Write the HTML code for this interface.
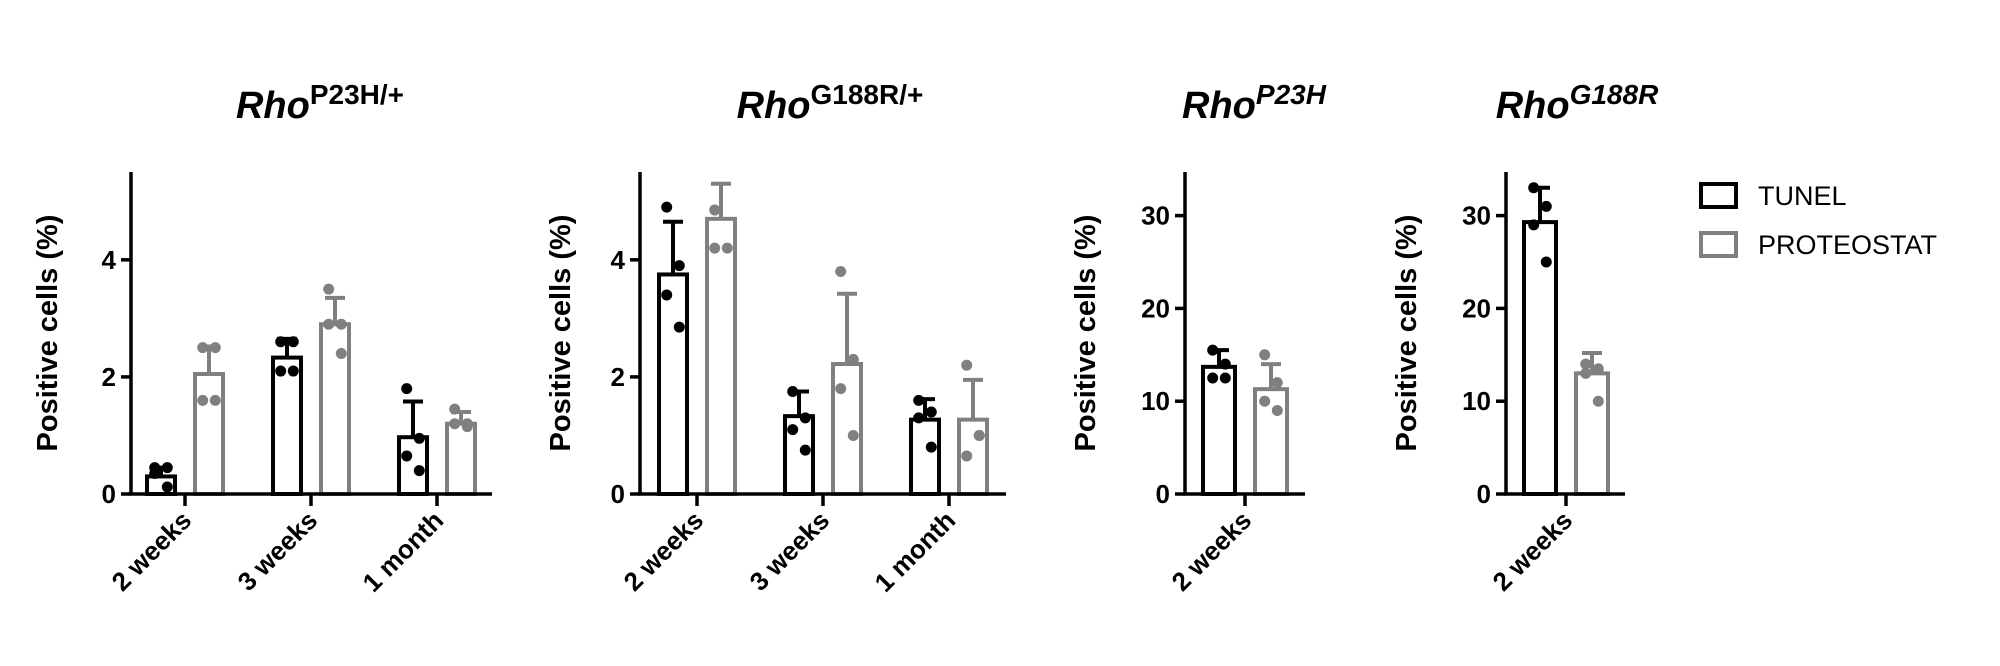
<!DOCTYPE html>
<html><head><meta charset="utf-8"><style>
html,body{margin:0;padding:0;background:#fff;}
svg{display:block;font-family:"Liberation Sans",Arial,sans-serif;}
</style></head><body>
<svg id="fig" width="2000" height="666" viewBox="0 0 2000 666" xmlns="http://www.w3.org/2000/svg">
<g>
<rect x="1701" y="184" width="35" height="23" fill="none" stroke="#000" stroke-width="4"/>
<text x="1758" y="205" font-size="27">TUNEL</text>
<rect x="1701" y="233" width="35" height="23" fill="none" stroke="#808080" stroke-width="4"/>
<text x="1758" y="254" font-size="27">PROTEOSTAT</text>
</g>
</svg>
<script>
// Panel 1: Rho P23H/+
const p1Categories = ["2 weeks", "3 weeks", "1 month"];
const p1TunelMean = [0.3, 2.33, 0.97];
const p1TunelSD = [0.15, 0.32, 0.61];
const p1TunelPts = [[0.45, 0.45, 0.35, 0.12], [2.6, 2.6, 2.1, 2.1], [1.8, 0.95, 0.65, 0.4]];
const p1ProtMean = [2.05, 2.9, 1.2];
const p1ProtSD = [0.47, 0.45, 0.2];
const p1ProtPts = [[2.5, 2.5, 1.6, 1.6], [3.5, 2.9, 2.9, 2.4], [1.45, 1.2, 1.2, 1.15]];
const p1Ticks = [0, 2, 4];
// Panel 2: Rho G188R/+
const p2Categories = ["2 weeks", "3 weeks", "1 month"];
const p2TunelMean = [3.75, 1.33, 1.27];
const p2TunelSD = [0.9, 0.42, 0.35];
const p2TunelPts = [[4.9, 3.9, 3.4, 2.85], [1.75, 1.3, 1.1, 0.75], [1.6, 1.4, 1.3, 0.8]];
const p2ProtMean = [4.7, 2.22, 1.27];
const p2ProtSD = [0.6, 1.2, 0.68];
const p2ProtPts = [[4.85, 4.2, 4.2], [3.8, 2.3, 1.8, 1.0], [2.2, 1.0, 0.65, 1.0]];
const p2Ticks = [0, 2, 4];
// Panel 3: Rho P23H
const p3Categories = ["2 weeks"];
const p3TunelMean = [13.7];
const p3TunelSD = [1.8];
const p3TunelPts = [[15.5, 14, 12.5, 12.5]];
const p3ProtMean = [11.3];
const p3ProtSD = [2.7];
const p3ProtPts = [[15, 12, 10, 9]];
const p3Ticks = [0, 10, 20, 30];
// Panel 4: Rho G188R
const p4Categories = ["2 weeks"];
const p4TunelMean = [29.3];
const p4TunelSD = [3.7];
const p4TunelPts = [[33, 31, 29, 25]];
const p4ProtMean = [13];
const p4ProtSD = [2.2];
const p4ProtPts = [[14, 13.5, 13, 10]];
const p4Ticks = [0, 10, 20, 30];

const NS = "http://www.w3.org/2000/svg";
const svg = document.getElementById("fig");
function mk(tag, attrs, parent) {
  const e = document.createElementNS(NS, tag);
  for (const k in attrs) e.setAttribute(k, attrs[k]);
  parent.appendChild(e);
  return e;
}

function panel(cfg) {
  const g = mk("g", {}, svg);
  
  
  const y0 = 494, yTop = 172;
  const y = v => y0 - (v / cfg.ymax) * (y0 - yTop);
  const xc = i => cfg.firstTick + i * cfg.step;
  // title
  const t = mk("text", {x: cfg.titleX, y: 118, "text-anchor": "middle", "font-size": 38, "font-weight": "bold"}, g);
  
  
  const t1 = mk("tspan", {"font-style": "italic"}, t); t1.textContent = "Rho";
  const t2 = mk("tspan", {dy: -14, "font-size": 28, "font-style": cfg.supItalic ? "italic" : "normal"}, t); t2.textContent = cfg.sup;
  // y label
  const yl = mk("text", {transform: `translate(${cfg.ylabX},333) rotate(-90)`, "text-anchor": "middle", "font-size": 29, "font-weight": "bold"}, g);
  
  
  yl.textContent = "Positive cells (%)";
  // bars
  const series = [
    {mean: cfg.tm, sd: cfg.ts, pts: cfg.tp, col: "#000", off: -cfg.off, nm: "tunel"},
    {mean: cfg.pm, sd: cfg.ps, pts: cfg.pp, col: "#808080", off: cfg.off, nm: "proteostat"}
  ];
  const bw = cfg.bw;
  series.forEach(s => {
    s.mean.forEach((m, i) => {
      const cx = xc(i) + s.off;
      const b = mk("rect", {x: cx - bw / 2, y: y(m), width: bw, height: y0 - y(m), fill: "#fff", stroke: s.col, "stroke-width": 4}, g);
      
      
      const top = y(m + s.sd[i]);
      const eb = mk("path", {d: `M${cx},${y(m)}V${top}M${cx - 10},${top}H${cx + 10}`, stroke: s.col, "stroke-width": 4, fill: "none"}, g);
      
      
      s.pts[i].forEach((p, j) => {
        const dx = [-7, 7, -7, 7][j % 4] * 0.9;
        const c = mk("circle", {cx: cx + dx, cy: y(p), r: 5.5, fill: s.col}, g);
        
        
      });
    });
  });
  // axes
  const ax = mk("path", {d: `M${cfg.axisX},${yTop}V${y0}H${cfg.axisR}`, stroke: "#000", "stroke-width": 3.5, fill: "none"}, g);
  
  
  cfg.ticks.forEach(v => {
    const tk = mk("line", {x1: cfg.axisX - 10, x2: cfg.axisX, y1: y(v), y2: y(v), stroke: "#000", "stroke-width": 3.5}, g);
    
    
    const tl = mk("text", {x: cfg.axisX - 15, y: y(v) + 9, "text-anchor": "end", "font-size": 26, "font-weight": "bold"}, g);
    
    
    tl.textContent = v;
  });
  cfg.cats.forEach((c, i) => {
    const tk = mk("line", {x1: xc(i), x2: xc(i), y1: y0, y2: y0 + 12, stroke: "#000", "stroke-width": 3.5}, g);
    
    
    const tl = mk("text", {transform: `translate(${xc(i) + 8},${y0 + 28}) rotate(-45)`, "text-anchor": "end", "font-size": 26, "font-weight": "bold"}, g);
    
    
    tl.textContent = c;
  });
}

panel({name: "panel-rho-p23h-het", titleX: 320, sup: "P23H/+", supItalic: false, ylabX: 57, axisX: 131, axisR: 492, firstTick: 185, step: 126, off: 24, bw: 28, ymax: 5.5,
  cats: p1Categories, tm: p1TunelMean, ts: p1TunelSD, tp: p1TunelPts, pm: p1ProtMean, ps: p1ProtSD, pp: p1ProtPts, ticks: p1Ticks});
panel({name: "panel-rho-g188r-het", titleX: 830, sup: "G188R/+", supItalic: false, ylabX: 570, axisX: 640, axisR: 1006, firstTick: 697, step: 126, off: 24, bw: 28, ymax: 5.5,
  cats: p2Categories, tm: p2TunelMean, ts: p2TunelSD, tp: p2TunelPts, pm: p2ProtMean, ps: p2ProtSD, pp: p2ProtPts, ticks: p2Ticks});
panel({name: "panel-rho-p23h", titleX: 1254, sup: "P23H", supItalic: true, ylabX: 1095, axisX: 1185, axisR: 1305, firstTick: 1245, step: 100, off: 26, bw: 32, ymax: 34.7,
  cats: p3Categories, tm: p3TunelMean, ts: p3TunelSD, tp: p3TunelPts, pm: p3ProtMean, ps: p3ProtSD, pp: p3ProtPts, ticks: p3Ticks});
panel({name: "panel-rho-g188r", titleX: 1577, sup: "G188R", supItalic: true, ylabX: 1416, axisX: 1506, axisR: 1625, firstTick: 1566, step: 100, off: 26, bw: 32, ymax: 34.7,
  cats: p4Categories, tm: p4TunelMean, ts: p4TunelSD, tp: p4TunelPts, pm: p4ProtMean, ps: p4ProtSD, pp: p4ProtPts, ticks: p4Ticks});
</script>
</body></html>
